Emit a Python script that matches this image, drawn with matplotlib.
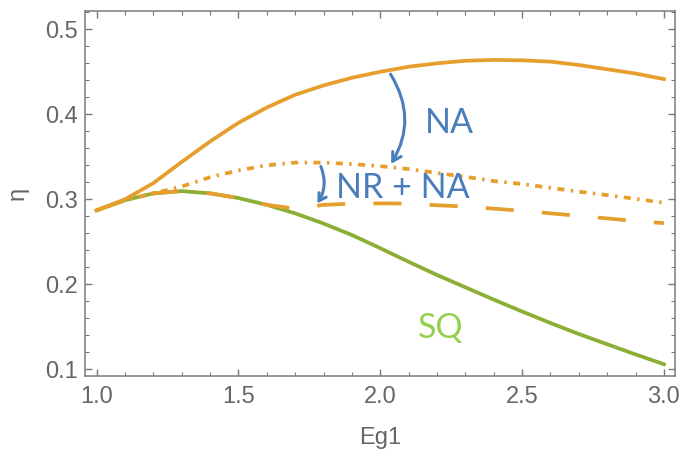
import numpy as np
import matplotlib
matplotlib.use('Agg')
from matplotlib import pyplot as plt
from matplotlib.patches import FancyArrowPatch
from matplotlib.ticker import MultipleLocator, FormatStrFormatter

# Eg1 grid shared by all curves
eg = [1.0, 1.1, 1.2, 1.3, 1.4, 1.5, 1.6, 1.7, 1.8, 1.9, 2.0,
      2.1, 2.2, 2.3, 2.4, 2.5, 2.6, 2.7, 2.8, 2.9, 3.0]

eta_top = [0.287, 0.300, 0.319, 0.344, 0.368, 0.390, 0.408, 0.423, 0.434, 0.443, 0.450,
           0.456, 0.460, 0.463, 0.464, 0.4635, 0.462, 0.458, 0.453, 0.448, 0.4415]
eta_nrna = [0.287, 0.299, 0.307, 0.315, 0.326, 0.334, 0.340, 0.3432, 0.3432, 0.3415, 0.339,
            0.3356, 0.331, 0.3265, 0.3215, 0.318, 0.3135, 0.309, 0.305, 0.3005, 0.296]
eta_dash = [0.287, 0.299, 0.307, 0.3097, 0.307, 0.3015, 0.2935, 0.289, 0.2935, 0.2948, 0.2952,
            0.295, 0.293, 0.2915, 0.289, 0.2865, 0.2835, 0.2805, 0.2775, 0.2745, 0.272]
eta_sq = [0.287, 0.299, 0.307, 0.3097, 0.307, 0.3015, 0.2935, 0.2835, 0.2715, 0.258, 0.2425,
          0.2265, 0.211, 0.1965, 0.182, 0.168, 0.1545, 0.1415, 0.1295, 0.1175, 0.106]

orange = '#E69F2D'
green = '#8AAF34'
blue = '#4A7EBB'
grey = '#666666'
frame = '#7A7A7A'

plt.rcParams['font.family'] = ['Liberation Sans', 'DejaVu Sans']

fig = plt.figure(figsize=(6.82, 4.5), dpi=100)
ax = fig.add_axes([0.1246, 0.1644, 0.8651, 0.8118])

lw = 2.7
ax.plot(eg, eta_sq, color=green, lw=lw)
ax.plot(eg, eta_top, color=orange, lw=lw)
ax.plot(eg, eta_nrna, color=orange, lw=lw, dashes=(1.9, 1.7, 0.65, 1.7))
ax.plot(eg, eta_dash, color=orange, lw=lw, dashes=(7.5, 7.5))

ax.set_xlim(0.959, 3.039)
ax.set_ylim(0.0921, 0.5219)

ax.xaxis.set_major_locator(MultipleLocator(0.5))
ax.xaxis.set_minor_locator(MultipleLocator(0.1))
ax.yaxis.set_major_locator(MultipleLocator(0.1))
ax.yaxis.set_minor_locator(MultipleLocator(0.02))
ax.xaxis.set_major_formatter(FormatStrFormatter('%.1f'))
ax.yaxis.set_major_formatter(FormatStrFormatter('%.1f'))

ax.tick_params(which='both', direction='in', top=True, right=True, color=frame,
               labelcolor=grey, labelsize=17)
ax.tick_params(which='major', length=5, width=1)
ax.tick_params(which='minor', length=3, width=0.8)
ax.tick_params(axis='x', pad=7)
ax.tick_params(axis='y', pad=5)
for s in ax.spines.values():
    s.set_color(frame)
    s.set_linewidth(1.1)

ax.set_xlabel('Eg1', fontsize=17, color=grey, va='baseline')
ax.xaxis.set_label_coords(0.5, -0.186)
ax.set_ylabel('η', fontsize=17, color=grey, va='center')
ax.yaxis.set_label_coords(-0.1136, 0.5)

txt = dict(family=['Lato', 'DejaVu Sans'], fontsize=24.5, color=blue, ha='center', va='baseline')
ax.text(2.242, 0.3776, 'NA', **txt)
ax.text(2.080, 0.3015, 'NR + NA', **txt)
ax.text(2.214, 0.1368, 'SQ', **dict(txt, color='#92D050'))

a1 = FancyArrowPatch((2.031, 0.450), (2.033, 0.339), connectionstyle='arc3,rad=-0.32',
                     arrowstyle='->,head_length=6,head_width=3.5', color=blue, lw=2.2)
a2 = FancyArrowPatch((1.787, 0.3416), (1.773, 0.2925), connectionstyle='arc3,rad=-0.28',
                     arrowstyle='->,head_length=5,head_width=3', color=blue, lw=2.2)
ax.add_patch(a1)
ax.add_patch(a2)

fig.savefig('out.png', dpi=100)
